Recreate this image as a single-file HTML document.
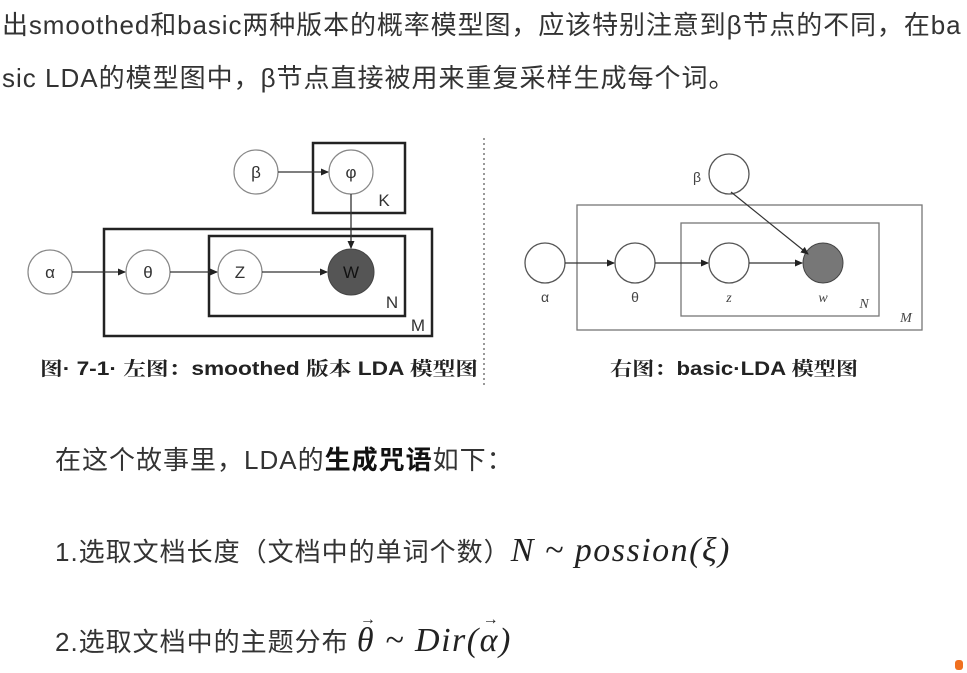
<!DOCTYPE html>
<html><head><meta charset="utf-8"><style>
body{margin:0;width:967px;height:673px;background:#fff;position:relative;overflow:hidden;font-family:"Liberation Sans","Noto Sans CJK SC",sans-serif;color:#333}
.t{position:absolute;white-space:nowrap;font-size:26px;line-height:1;letter-spacing:1px}
.m{font-family:"Liberation Serif","DejaVu Serif",serif;font-style:italic;font-size:34px;color:#222;letter-spacing:1.5px;position:relative}
.ar{position:absolute;font-style:normal;font-size:16px;top:-10px}
</style></head><body>
<div class="t" style="left:2px;top:12px;letter-spacing:0.9px">出smoothed和basic两种版本的概率模型图，应该特别注意到β节点的不同，在ba</div>
<div class="t" style="left:2px;top:65px">sic LDA的模型图中，β节点直接被用来重复采样生成每个词。</div>

<svg width="967" height="400" style="position:absolute;left:0;top:0" font-family="Liberation Sans, Noto Sans CJK SC, sans-serif">
<defs><marker id="a" markerWidth="8" markerHeight="8" refX="7" refY="4" orient="auto" markerUnits="userSpaceOnUse"><path d="M0,0.5 L8,4 L0,7.5z" fill="#222"/></marker></defs>
<g stroke="#222" fill="none">
<rect x="313" y="143" width="92" height="70" stroke-width="2.5"/>
<rect x="104" y="229" width="328" height="107" stroke-width="2.5"/>
<rect x="209" y="236" width="196" height="80" stroke-width="2.5"/>
</g>
<g stroke="#888" fill="#fff" stroke-width="1.2">
<circle cx="256" cy="172" r="22"/><circle cx="351" cy="172" r="22"/>
<circle cx="50" cy="272" r="22"/><circle cx="148" cy="272" r="22"/><circle cx="240" cy="272" r="22"/>
</g>
<circle cx="351" cy="272" r="23" fill="#555" stroke="#444"/>
<g stroke="#333" stroke-width="1.3" marker-end="url(#a)">
<line x1="278" y1="172" x2="328" y2="172"/>
<line x1="351" y1="194" x2="351" y2="248"/>
<line x1="72" y1="272" x2="125" y2="272"/>
<line x1="170" y1="272" x2="217" y2="272"/>
<line x1="262" y1="272" x2="327" y2="272"/>
</g>
<g font-size="17" text-anchor="middle" fill="#333">
<text x="256" y="178">β</text><text x="351" y="178">φ</text>
<text x="50" y="278">α</text><text x="148" y="278">θ</text><text x="240" y="278">Z</text>
<text x="351" y="278" fill="#111">W</text>
<text x="384" y="206">K</text><text x="392" y="308">N</text><text x="418" y="331">M</text>
</g>
<text x="40" y="375" font-size="19" font-weight="bold" fill="#222" textLength="438" lengthAdjust="spacingAndGlyphs" font-family="Liberation Sans, Noto Serif CJK SC, serif">图· 7-1· 左图：smoothed 版本 LDA 模型图</text>
<line x1="484" y1="138" x2="484" y2="385" stroke="#999" stroke-width="2" stroke-dasharray="2,3"/>
<g stroke="#777" fill="none" stroke-width="1.3">
<rect x="577" y="205" width="345" height="125"/>
<rect x="681" y="223" width="198" height="93"/>
</g>
<g stroke="#555" fill="#fff" stroke-width="1.3">
<circle cx="729" cy="174" r="20"/><circle cx="545" cy="263" r="20"/><circle cx="635" cy="263" r="20"/><circle cx="729" cy="263" r="20"/>
</g>
<circle cx="823" cy="263" r="20" fill="#777" stroke="#444"/>
<g stroke="#333" stroke-width="1.2" marker-end="url(#a)">
<line x1="565" y1="263" x2="614" y2="263"/>
<line x1="655" y1="263" x2="708" y2="263"/>
<line x1="749" y1="263" x2="802" y2="263"/>
<line x1="731" y1="192" x2="808" y2="254"/>
</g>
<g font-size="14" fill="#444" text-anchor="middle">
<text x="697" y="182">β</text><text x="545" y="302">α</text><text x="635" y="302">θ</text>
<g font-family="Liberation Serif, serif" font-style="italic"><text x="729" y="302">z</text><text x="823" y="302">w</text><text x="864" y="308">N</text><text x="906" y="322">M</text></g>
</g>
<text x="610" y="375" font-size="19" font-weight="bold" fill="#222" textLength="248" lengthAdjust="spacingAndGlyphs" font-family="Liberation Sans, Noto Serif CJK SC, serif">右图：basic·LDA 模型图</text>
</svg>

<div class="t" style="left:55px;top:447px">在这个故事里，LDA的<b style="color:#111">生成咒语</b>如下：</div>
<div class="t" style="left:55px;top:534px">1.选取文档长度（文档中的单词个数）<span class="m">N ~ possion(ξ)</span></div>
<div class="t" style="left:55px;top:624px">2.选取文档中的主题分布 <span class="m"><span style="position:relative">θ<span class="ar" style="left:3px">→</span></span> ~ Dir(<span style="position:relative">α<span class="ar" style="left:3px">→</span></span>)</span></div>
<div style="position:absolute;left:955px;top:660px;width:8px;height:10px;background:#f07020;border-radius:3px"></div>
</body></html>
